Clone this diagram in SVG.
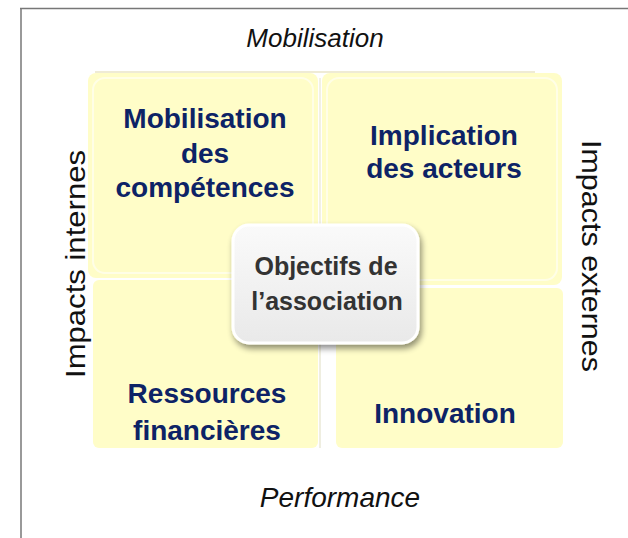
<svg xmlns="http://www.w3.org/2000/svg" width="628" height="538" viewBox="0 0 628 538">
<style>
.axis{font-family:"Liberation Sans",Arial,sans-serif;fill:#111;}
.q{fill:#FFFDC8;}
.gloss{fill:none;stroke:#fff;stroke-width:2;opacity:0.55;}
.qt{font-family:"Liberation Sans",Arial,sans-serif;font-weight:bold;font-size:28px;fill:#0D2366;text-anchor:middle;}
.ct{font-family:"Liberation Sans",Arial,sans-serif;font-weight:bold;font-size:25px;fill:#333;text-anchor:middle;}
</style>
<defs>
<linearGradient id="cg" x1="0" y1="0" x2="0" y2="1">
<stop offset="0" stop-color="#FAFAFA"/>
<stop offset="1" stop-color="#E9E9E9"/>
</linearGradient>
<filter id="sh" x="-20%" y="-20%" width="140%" height="140%">
<feGaussianBlur in="SourceAlpha" stdDeviation="3"/>
<feOffset dx="2" dy="4" result="b"/>
<feComponentTransfer><feFuncA type="linear" slope="0.45"/></feComponentTransfer>
<feMerge><feMergeNode/><feMergeNode in="SourceGraphic"/></feMerge>
</filter>
</defs>
<rect x="0" y="0" width="628" height="538" fill="#fff"/>
<g id="frame" stroke="#777" stroke-width="1.5" fill="none">
<line x1="20" y1="8.5" x2="628" y2="8.5"/>
<line x1="21" y1="8" x2="21" y2="538"/>
</g>
<line x1="95" y1="72" x2="535" y2="72" stroke="#EFEBD5" stroke-width="2"/>
<g id="connectors"></g>
<g id="q-tl">
<rect class="q" x="88" y="73" width="230" height="205" rx="8"/>
<rect class="gloss" x="93" y="78" width="220" height="195" rx="12"/>
<text class="qt" x="205" y="128">Mobilisation</text>
<text class="qt" x="205" y="163">des</text>
<text class="qt" x="205" y="197">compétences</text>
</g>
<g id="q-tr">
<rect class="q" x="322" y="73" width="240" height="212" rx="8"/>
<rect class="gloss" x="327" y="78" width="230" height="202" rx="12"/>
<text class="qt" x="444" y="145">Implication</text>
<text class="qt" x="444" y="178">des acteurs</text>
</g>
<g id="q-bl">
<rect class="q" x="93" y="280" width="225" height="168" rx="6"/>
<text class="qt" x="207" y="403">Ressources</text>
<text class="qt" x="207" y="440">financières</text>
</g>
<g id="q-br">
<rect class="q" x="336" y="288" width="227" height="160" rx="6"/>
<text class="qt" x="445" y="423">Innovation</text>
</g>
<line x1="320" y1="78" x2="320" y2="275" stroke="#E6E3C8" stroke-width="1"/>
<line x1="320" y1="285" x2="320" y2="448" stroke="#E0DDC2" stroke-width="1"/>
<g id="center">
<rect x="233" y="225" width="185" height="118" rx="16" fill="url(#cg)" stroke="#fff" stroke-width="3" filter="url(#sh)"/>
<text class="ct" x="326" y="275">Objectifs de</text>
<text class="ct" x="327" y="310">l’association</text>
</g>
<g id="labels">
<text class="axis" x="315" y="47" font-size="26" font-style="italic" text-anchor="middle">Mobilisation</text>
<text class="axis" x="340" y="507" font-size="28" font-style="italic" text-anchor="middle">Performance</text>
<text class="axis" font-size="28" text-anchor="middle" textLength="228" lengthAdjust="spacingAndGlyphs" transform="translate(85 264) rotate(-90)">Impacts internes</text>
<text class="axis" font-size="28" text-anchor="middle" textLength="232" lengthAdjust="spacingAndGlyphs" transform="translate(582 256) rotate(90)">Impacts externes</text>
</g>
</svg>
